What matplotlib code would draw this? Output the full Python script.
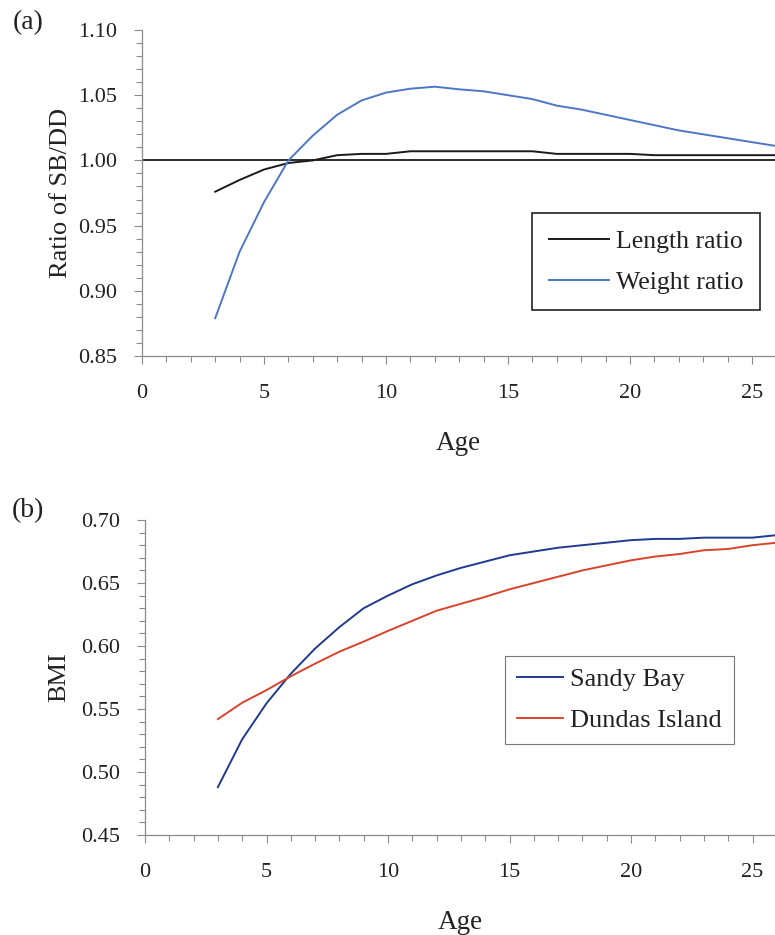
import numpy as np
from matplotlib import pyplot as plt
from matplotlib.ticker import MultipleLocator, FormatStrFormatter

# ages (years)
ages = list(range(3, 27))

# (a) ratios of Sandy Bay / Dundas Island
length_ratio = [0.976, 0.985, 0.993, 0.998, 1.000, 1.004, 1.005, 1.005, 1.007, 1.007,
                1.007, 1.007, 1.007, 1.007, 1.005, 1.005, 1.005, 1.005, 1.004, 1.004,
                1.004, 1.004, 1.004, 1.004]
weight_ratio = [0.879, 0.930, 0.968, 1.000, 1.019, 1.035, 1.046, 1.052, 1.055, 1.0565,
                1.0545, 1.053, 1.050, 1.047, 1.042, 1.039, 1.035, 1.031, 1.027, 1.023,
                1.020, 1.017, 1.014, 1.011]

# (b) BMI
sandy_bay = [0.488, 0.526, 0.5545, 0.578, 0.598, 0.615, 0.630, 0.640, 0.649, 0.656,
             0.662, 0.667, 0.672, 0.675, 0.678, 0.680, 0.682, 0.684, 0.685, 0.685,
             0.686, 0.686, 0.686, 0.688]
dundas = [0.542, 0.555, 0.565, 0.576, 0.586, 0.5955, 0.6035, 0.612, 0.620, 0.628,
          0.6335, 0.639, 0.645, 0.650, 0.655, 0.660, 0.664, 0.668, 0.671, 0.673,
          0.676, 0.677, 0.680, 0.682]

plt.rcParams["font.family"] = ["Liberation Serif", "DejaVu Serif"]
plt.rcParams["font.size"] = 16

W, H = 775, 935
fig = plt.figure(figsize=(W / 100, H / 100), dpi=100)
TXT = "#222222"


def setup(ax, ylo, yhi):
    for s in ["top", "right"]:
        ax.spines[s].set_visible(False)
    for s in ["left", "bottom"]:
        ax.spines[s].set_color("#8a8a8a")
        ax.spines[s].set_linewidth(0.9)
    ax.set_ylim(ylo, yhi)
    ax.yaxis.set_major_locator(MultipleLocator(0.05))
    ax.yaxis.set_minor_locator(MultipleLocator(0.01))
    ax.yaxis.set_major_formatter(FormatStrFormatter("%.2f"))
    ax.xaxis.set_major_locator(MultipleLocator(5))
    ax.xaxis.set_minor_locator(MultipleLocator(1))
    ax.tick_params(which="major", direction="out", length=6, width=0.8, color="#8a8a8a",
                   labelsize=16, labelcolor=TXT)
    ax.tick_params(which="minor", direction="out", length=4, width=0.8, color="#8a8a8a")
    ax.tick_params(axis="y", which="major", pad=12)
    ax.tick_params(axis="x", which="major", pad=14)
    ax.set_xlabel("Age", fontsize=19.5, color=TXT, labelpad=20)


# ---------------- (a) ----------------
ax1 = fig.add_axes([142 / W, 1 - 356 / H, 1 - 142 / W, (356 - 30) / H])
setup(ax1, 0.85, 1.10)
ax1.set_xlim(0, (W - 142) / 24.4)
ax1.axhline(1.0, color="#1a1a1a", lw=1.3, zorder=1)
ax1.plot(ages, length_ratio, color="#1a1a1a", lw=1.4, label="Length ratio")
ax1.plot(ages, weight_ratio, color="#4d77c6", lw=1.4, label="Weight ratio")
ax1.set_ylabel("Ratio of SB/DD", fontsize=19, color=TXT, labelpad=4)
leg1 = ax1.legend(loc="upper left", bbox_to_anchor=(0.616, 0.439), borderaxespad=0,
                  fontsize=18.5, frameon=True, fancybox=False, edgecolor=TXT,
                  framealpha=1, handlelength=2.35, handletextpad=0.27,
                  borderpad=0.65, labelspacing=0.7)
leg1.get_frame().set_linewidth(1.2)
for t in leg1.get_texts():
    t.set_color(TXT)
fig.text(28 / W, 1 - 23 / H, "(a)", fontsize=20, ha="center", va="center", color=TXT)

# ---------------- (b) ----------------
ax2 = fig.add_axes([145 / W, 1 - 835 / H, 1 - 145 / W, (835 - 520) / H])
setup(ax2, 0.45, 0.70)
ax2.set_xlim(0, (W - 145) / 24.3)
ax2.plot(ages, sandy_bay, color="#1f3a8f", lw=1.4, label="Sandy Bay")
ax2.plot(ages, dundas, color="#d9432b", lw=1.4, label="Dundas Island")
ax2.set_ylabel("BMI", fontsize=19, color=TXT, labelpad=8)
leg2 = ax2.legend(loc="upper left", bbox_to_anchor=(0.571, 0.568), borderaxespad=0,
                  fontsize=19, frameon=True, fancybox=False, edgecolor="#777777",
                  framealpha=1, handlelength=1.75, handletextpad=0.27,
                  borderpad=0.45, labelspacing=0.65)
leg2.get_frame().set_linewidth(0.8)
for t in leg2.get_texts():
    t.set_color(TXT)
fig.text(28 / W, 1 - 511 / H, "(b)", fontsize=20, ha="center", va="center", color=TXT)

plt.savefig("out.png", dpi=100)
